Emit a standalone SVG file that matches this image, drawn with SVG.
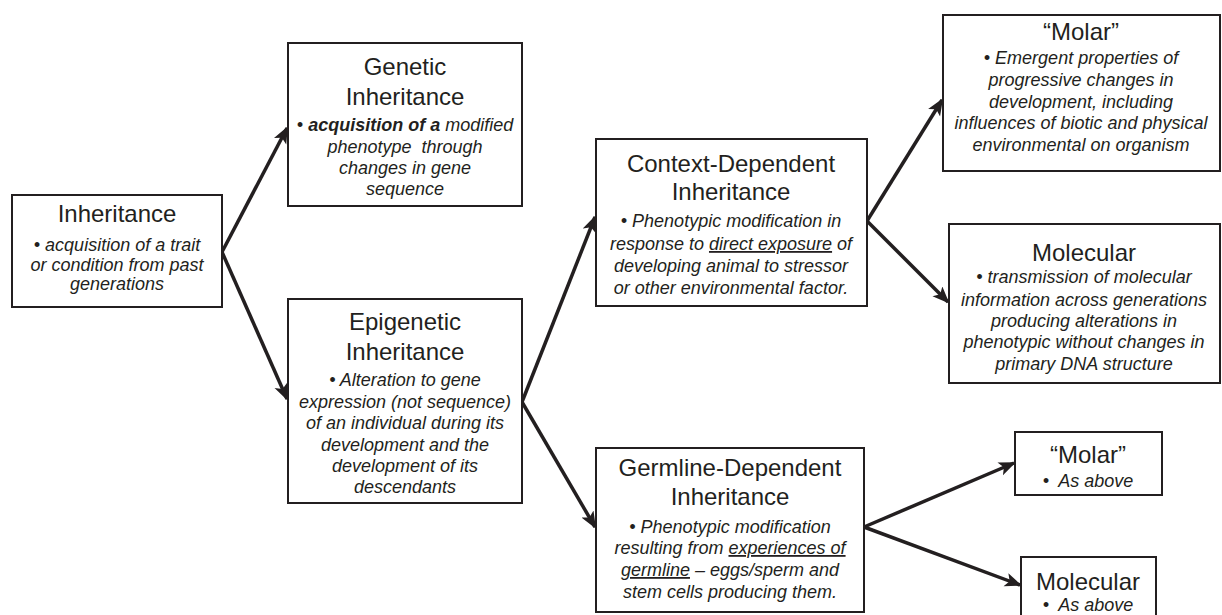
<svg xmlns="http://www.w3.org/2000/svg" width="1222" height="615" viewBox="0 0 1222 615">
<style>
.box{fill:#fff;stroke:#231f20;stroke-width:2}
.t{font-family:"Liberation Sans",Arial,sans-serif;font-size:24px;fill:#231f20;text-anchor:middle}
.b{font-family:"Liberation Sans",Arial,sans-serif;font-size:18px;font-style:italic;fill:#231f20;text-anchor:middle}
.bold{font-weight:bold}
.u{text-decoration:underline}
.c{stroke:#231f20;stroke-width:3.5;fill:none;marker-end:url(#ah)}
</style>
<defs>
<marker id="ah" markerUnits="userSpaceOnUse" markerWidth="20" markerHeight="16" refX="15" refY="7" orient="auto">
<path d="M0,0 L17,7 L0,14 L4,7 z" fill="#231f20"/>
</marker>
</defs>
<rect width="1222" height="615" fill="#fff"/>
<g id="connectors">
<line class="c" x1="222" y1="252" x2="287" y2="128"/>
<line class="c" x1="222" y1="252" x2="287" y2="399"/>
<line class="c" x1="522" y1="402" x2="595" y2="217"/>
<line class="c" x1="522" y1="402" x2="595" y2="527"/>
<line class="c" x1="867" y1="221" x2="942" y2="100"/>
<line class="c" x1="867" y1="221" x2="948" y2="302"/>
<line class="c" x1="864" y1="527" x2="1014" y2="463"/>
<line class="c" x1="864" y1="527" x2="1020" y2="585"/>
</g>
<g id="inheritance">
<rect class="box" x="12" y="195" width="210" height="112"/>
<text class="t" x="117" y="222">Inheritance</text>
<text class="b" x="117" y="251">• acquisition of a trait</text>
<text class="b" x="117" y="271">or condition from past</text>
<text class="b" x="117" y="290">generations</text>
</g>
<g id="genetic">
<rect class="box" x="288" y="43" width="234" height="163"/>
<text class="t" x="405" y="75">Genetic</text>
<text class="t" x="405" y="105">Inheritance</text>
<text class="b" x="405" y="131">• <tspan class="bold">acquisition of a</tspan> modified</text>
<text class="b" x="405" y="153" xml:space="preserve">phenotype  through</text>
<text class="b" x="405" y="174">changes in gene</text>
<text class="b" x="405" y="195">sequence</text>
</g>
<g id="epigenetic">
<rect class="box" x="288" y="299" width="234" height="204"/>
<text class="t" x="405" y="330">Epigenetic</text>
<text class="t" x="405" y="360">Inheritance</text>
<text class="b" x="405" y="386">• Alteration to gene</text>
<text class="b" x="405" y="408">expression (not sequence)</text>
<text class="b" x="405" y="429">of an individual during its</text>
<text class="b" x="405" y="451">development and the</text>
<text class="b" x="405" y="472">development of its</text>
<text class="b" x="405" y="493">descendants</text>
</g>
<g id="context">
<rect class="box" x="596" y="139" width="271" height="167"/>
<text class="t" x="731" y="172">Context-Dependent</text>
<text class="t" x="731" y="200">Inheritance</text>
<text class="b" x="731" y="227">• Phenotypic modification in</text>
<text class="b" x="731" y="250">response to <tspan class="u">direct exposure</tspan> of</text>
<text class="b" x="731" y="272">developing animal to stressor</text>
<text class="b" x="731" y="294">or other environmental factor.</text>
</g>
<g id="germline">
<rect class="box" x="596" y="448" width="268" height="164"/>
<text class="t" x="730" y="476">Germline-Dependent</text>
<text class="t" x="730" y="505">Inheritance</text>
<text class="b" x="730" y="533">• Phenotypic modification</text>
<text class="b" x="730" y="554">resulting from <tspan class="u">experiences of</tspan></text>
<text class="b" x="730" y="576"><tspan class="u">germline</tspan> – eggs/sperm and</text>
<text class="b" x="730" y="598">stem cells producing them.</text>
</g>
<g id="molar">
<rect class="box" x="943" y="15" width="277" height="156"/>
<text class="t" x="1081" y="40">“Molar”</text>
<text class="b" x="1081" y="64">• Emergent properties of</text>
<text class="b" x="1081" y="86">progressive changes in</text>
<text class="b" x="1081" y="108">development, including</text>
<text class="b" x="1081" y="129">influences of biotic and physical</text>
<text class="b" x="1081" y="151">environmental on organism</text>
</g>
<g id="molecular">
<rect class="box" x="949" y="224" width="271" height="159"/>
<text class="t" x="1084" y="261">Molecular</text>
<text class="b" x="1084" y="283">• transmission of molecular</text>
<text class="b" x="1084" y="306">information across generations</text>
<text class="b" x="1084" y="327">producing alterations in</text>
<text class="b" x="1084" y="348">phenotypic without changes in</text>
<text class="b" x="1084" y="370">primary DNA structure</text>
</g>
<g id="molar2">
<rect class="box" x="1015" y="432" width="147" height="63"/>
<text class="t" x="1088" y="463">“Molar”</text>
<text class="b" x="1088" y="487" xml:space="preserve">•  As above</text>
</g>
<g id="molecular2">
<rect class="box" x="1021" y="557" width="135" height="70"/>
<text class="t" x="1088" y="590">Molecular</text>
<text class="b" x="1088" y="611" xml:space="preserve">•  As above</text>
</g>
</svg>
